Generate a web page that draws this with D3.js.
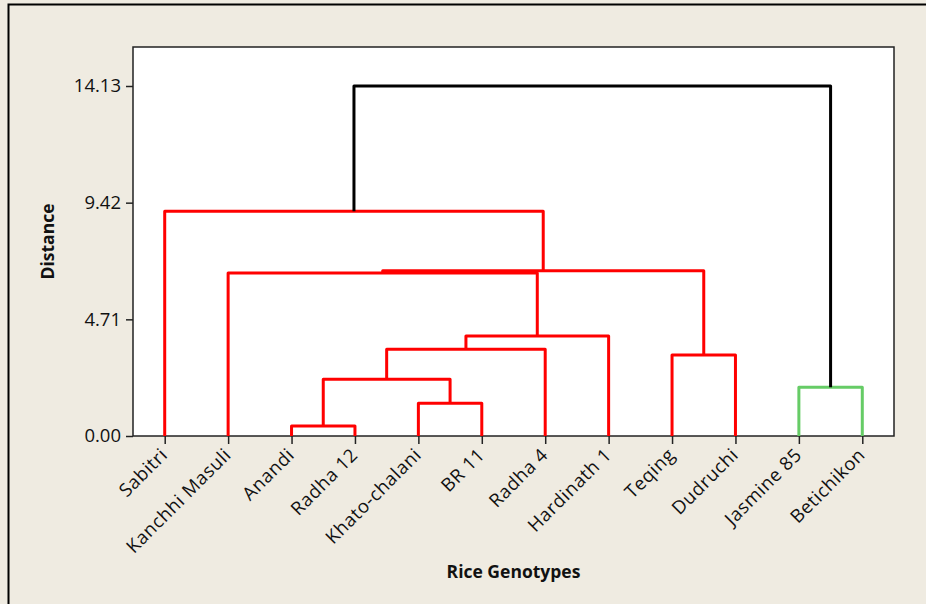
<!DOCTYPE html>
<html>
<head>
<meta charset="utf-8">
<script src="https://cdn.jsdelivr.net/npm/d3@7"></script>
<style>
  body { margin: 0; background: #efebe1; }
  text { font-family: "Open Sans", sans-serif; fill: #111; }
</style>
</head>
<body>
<div id="chart"></div>
<script>
// Leaves of the dendrogram, left to right
var genotypes = ["Sabitri", "Kanchhi Masuli", "Anandi", "Radha 12", "Khato-chalani", "BR 11",
    "Radha 4", "Hardinath 1", "Teqing", "Dudruchi", "Jasmine 85", "Betichikon"];

// Merges (linkage style): index < 12 is a leaf, 12 + i is merge i
var mergeLeft   = [2, 4, 12, 14, 15, 1, 8, 17, 0, 10, 20];
var mergeRight  = [3, 5, 13, 6, 7, 16, 9, 18, 19, 11, 21];
var mergeHeight = [0.40, 1.32, 2.29, 3.50, 4.04, 6.58, 3.27, 6.67, 9.07, 1.97, 14.13];

// Cluster of each merge (0 = red group, 1 = green group, 2 = top link)
var mergeCluster = [0, 0, 0, 0, 0, 0, 0, 0, 0, 1, 2];

var yTicks = [0.00, 4.71, 9.42, 14.13];

var width = 926, height = 604;
var margin = { top: 47, right: 32, bottom: 168, left: 133 };
var clusterColors = ["#ff0000", "#66cc66", "#000000"];

var svg = d3.select("#chart").append("svg")
    .attr("width", width)
    .attr("height", height);

// outer frame (runs off the right and bottom edges like the original)
svg.append("rect")
    .attr("x", 8.5).attr("y", 4.5)
    .attr("width", width).attr("height", height)
    .attr("fill", "#efebe1")
    .attr("stroke", "#000")
    .attr("stroke-width", 2);

var x = d3.scalePoint()
    .domain(genotypes)
    .range([margin.left, width - margin.right])
    .padding(0.5);

var y = d3.scaleLinear()
    .domain([0, 14.13])
    .range([height - margin.bottom, 86]);

// white plot area
svg.append("rect")
    .attr("x", margin.left).attr("y", margin.top)
    .attr("width", width - margin.right - margin.left)
    .attr("height", height - margin.bottom - margin.top)
    .attr("fill", "#fff")
    .attr("stroke", "#222")
    .attr("stroke-width", 1.5);

// position and height of every node
var nodeX = genotypes.map(function (d) { return x(d); });
var nodeY = genotypes.map(function () { return 0; });
mergeHeight.forEach(function (h, i) {
    nodeX.push((nodeX[mergeLeft[i]] + nodeX[mergeRight[i]]) / 2);
    nodeY.push(h);
});

var links = svg.append("g")
    .attr("fill", "none")
    .attr("stroke-width", 3)
    .attr("stroke-linejoin", "round");

mergeHeight.forEach(function (h, i) {
    var a = mergeLeft[i], b = mergeRight[i];
    links.append("path")
        .attr("stroke", clusterColors[mergeCluster[i]])
        .attr("d", "M" + nodeX[a] + "," + y(nodeY[a]) +
            "V" + y(h) + "H" + nodeX[b] + "V" + y(nodeY[b]));
});

// axes
var yAxis = svg.append("g")
    .attr("transform", "translate(" + margin.left + ",0)")
    .call(d3.axisLeft(y).tickValues(yTicks).tickFormat(d3.format(".2f")).tickSize(7).tickPadding(5));

var xAxis = svg.append("g")
    .attr("transform", "translate(0," + (height - margin.bottom) + ")")
    .call(d3.axisBottom(x).tickSize(8).tickFormat(""));

[yAxis, xAxis].forEach(function (g) {
    g.select(".domain").remove();
    g.selectAll("line").attr("stroke", "#222").attr("stroke-width", 1.5);
});
yAxis.selectAll("text")
    .attr("font-size", "18.5px")
    .style("font-family", "'Open Sans', sans-serif")
    .attr("fill", "#111");

// rotated genotype names
svg.append("g").selectAll("text")
    .data(genotypes)
    .enter()
    .append("text")
    .attr("transform", function (d) { return "translate(" + (x(d) + 4) + "," + (height - margin.bottom + 20) + ") rotate(-45)"; })
    .attr("text-anchor", "end")
    .attr("font-size", "18.5px")
    .attr("letter-spacing", "0.6px")
    .text(function (d) { return d; });

// axis titles
svg.append("text")
    .attr("transform", "translate(54," + ((margin.top + height - margin.bottom) / 2) + ") rotate(-90)")
    .attr("text-anchor", "middle")
    .attr("font-size", "17.5px")
    .attr("font-weight", "bold")
    .text("Distance");

svg.append("text")
    .attr("x", (margin.left + width - margin.right) / 2)
    .attr("y", 578)
    .attr("text-anchor", "middle")
    .attr("font-size", "17.5px")
    .attr("font-weight", "bold")
    .text("Rice Genotypes");
</script>
</body>
</html>
